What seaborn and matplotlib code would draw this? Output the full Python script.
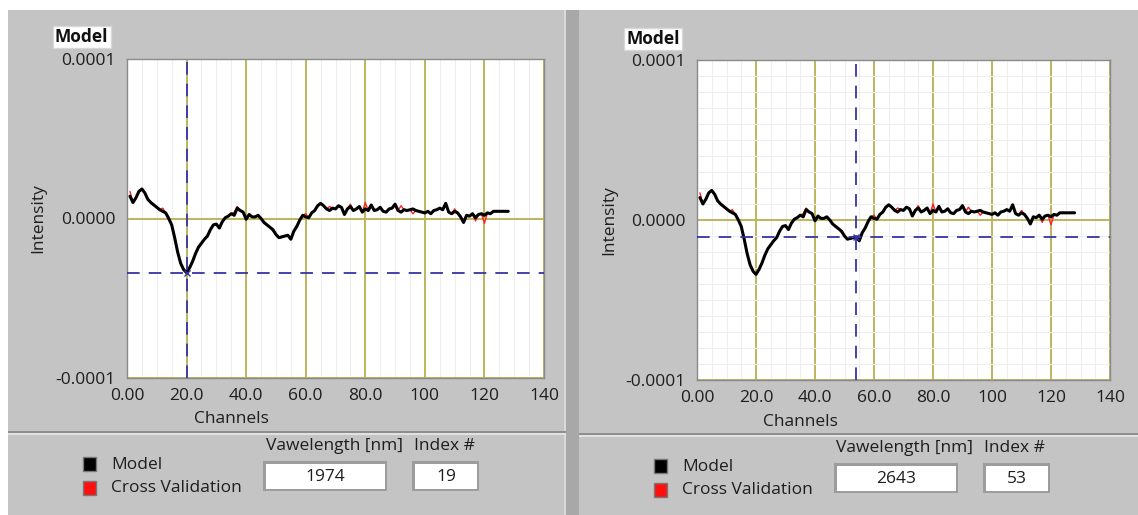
import numpy as np
import pandas as pd
import seaborn as sns
import matplotlib.pyplot as plt
from matplotlib.patches import Rectangle
from matplotlib.ticker import MultipleLocator

# spectrum, in units of 1e-6
channels = list(range(1, 129))
model = [14, 10, 13, 17, 18.5, 16, 12, 10, 8.5, 7,
         5.5, 4.5, 3.5, 0, -4, -12, -21, -28, -32, -34,
         -31, -27, -22, -18, -15.5, -13, -11, -7, -4, -3.5,
         -6, -2, 0.5, 1.5, 3, 2, 6.5, 5, 4, -0.5,
         2.5, 1, 1, 2, 0, -2.5, -4, -5.5, -7, -10,
         -12, -11.5, -11, -10.5, -13, -8, -5, -1, 2, 1,
         0.5, 3.5, 5, 8, 9.5, 8, 6, 5, 6.5, 6,
         8, 7, 2.5, 6, 7.5, 5, 6, 7.5, 4, 6,
         5, 8.5, 5, 5.5, 7, 4.5, 4, 6, 6.5, 9,
         5, 4, 5.5, 5, 5.5, 6, 5, 4.5, 4, 3.5,
         4.5, 3, 5, 5.5, 6.5, 5.5, 9.5, 4, 3, 4.5,
         3.5, 1, -2.5, 2, 1.5, 3, 0.5, 2.5, 3, 2,
         3.5, 3, 4.5, 4.5, 4.5, 4.5, 4.5, 4.5]
cross_val = [17, 10, 13, 17, 18.5, 16, 12, 10, 8.5, 7,
             5.5, 6.5, 3.5, 1, -4, -12, -21, -28, -32, -34,
             -31, -27, -22, -18, -15.5, -13, -11, -7, -4, -3.5,
             -6, -2, 0.5, 1.5, 3, 4, 7.5, 5, 4, -0.5,
             2.5, 1, 1, 2, 0, -2.5, -4, -5.5, -8, -10,
             -12, -12, -11, -10.5, -13, -8, -5, -1, 2, 3,
             0.5, 3.5, 5, 8, 9.5, 8, 6, 7.5, 6.5, 6,
             8, 7, 2.5, 6, 9, 5, 6, 7.5, 4, 10,
             5, 8.5, 5, 5.5, 7, 4.5, 4, 6, 6.5, 9,
             5, 8, 5.5, 5, 5.5, 3, 5, 4.5, 4, 3.5,
             4.5, 3, 5, 5.5, 6.5, 5.5, 9.5, 4, 3, 6,
             3.5, 1, -2.5, 2, 1.5, 3, -1.5, 2.5, 3, -3,
             3.5, 3, 4.5, 4.5, 4.5, 4.5, 4.5, 4.5]

x_ticks = [0, 20, 40, 60, 80, 100, 120, 140]
x_tick_labels = ['0.00', '20.0', '40.0', '60.0', '80.0', '100', '120', '140']
y_ticks = [-1e-4, 0, 1e-4]
y_tick_labels = ['-0.0001', '0.0000', '0.0001']
wavelengths = ['1974', '2643']
indices = [19, 53]

df = pd.DataFrame({'Channels': channels,
                   'Model': np.array(model) * 1e-6,
                   'Cross Validation': np.array(cross_val) * 1e-6})

sns.set_style('white')
plt.rcParams['font.family'] = ['Open Sans', 'DejaVu Sans']

W, H = 1138, 515
bg = '#c4c4c4'
grid_yellow = '#bdb55c'
cursor_blue = '#3434a4'
txt = '#1e1e1e'
fs = 12.5

fig = plt.figure(figsize=(W / 100, H / 100), dpi=100)
fig.patch.set_facecolor(bg)


def fx(x):
    return x / W


def fy(y):
    return 1 - y / H


def rect(x0, y0, x1, y1, **kw):
    fig.add_artist(Rectangle((fx(x0), fy(y1)), fx(x1 - x0), (y1 - y0) / H,
                             transform=fig.transFigure, **kw))


# panel frame: white border, divider, bottom separators
rect(0, 0, W, 10, facecolor='white', edgecolor='none')
rect(0, 0, 8, H, facecolor='white', edgecolor='none')
rect(566, 10, 579, H, facecolor='#a8a8a8', edgecolor='none')
rect(564, 10, 566, H, facecolor='#dadada', edgecolor='none')
rect(8, 431, 566, 433, facecolor='#8e8e8e', edgecolor='none')
rect(8, 433, 566, 435, facecolor='#e2e2e2', edgecolor='none')
rect(579, 433, W, 435, facecolor='#8e8e8e', edgecolor='none')
rect(579, 435, W, 437, facecolor='#e2e2e2', edgecolor='none')

# pixel layout of each panel: plot box, axis label spots, offset of the extras
panels = [
    dict(x0=127, x1=544, y0=59, y1=378, xlab=(231, 411), ylab_x=46, dx=0, dy=0, minor_y=False),
    dict(x0=697, x1=1110, y0=60, y1=380, xlab=(800, 414), ylab_x=617, dx=571, dy=2, minor_y=True),
]

for p, wl, idx in zip(panels, wavelengths, indices):
    w = p['x1'] - p['x0']
    h = p['y1'] - p['y0']
    ax = fig.add_axes([fx(p['x0']), fy(p['y1']), fx(w), h / H])
    ax.set_facecolor('white')

    sns.lineplot(data=df, x='Channels', y='Cross Validation', ax=ax,
                 color='#ff2020', linewidth=1.0, zorder=3)
    sns.lineplot(data=df, x='Channels', y='Model', ax=ax,
                 color='black', linewidth=2.2, zorder=4)

    ax.set_xlim(0, 140)
    ax.set_ylim(-1e-4, 1e-4)
    ax.set_xticks(x_ticks)
    ax.set_xticklabels(x_tick_labels)
    ax.set_yticks(y_ticks)
    ax.set_yticklabels(y_tick_labels)

    ax.xaxis.set_minor_locator(MultipleLocator(5))
    ax.grid(True, which='major', color=grid_yellow, linewidth=1.4, zorder=1)
    ax.grid(True, which='minor', axis='x', color='#eeeeee', linewidth=0.8, zorder=0)
    if p['minor_y']:
        ax.yaxis.set_minor_locator(MultipleLocator(1e-5))
        ax.grid(True, which='minor', axis='y', color='#eeeeee', linewidth=0.8, zorder=0)
    ax.set_axisbelow(True)
    ax.tick_params(which='minor', length=0)
    ax.tick_params(axis='both', which='major', labelsize=fs, colors=txt,
                   direction='out', length=6, width=1.2)
    ax.tick_params(axis='x', pad=1)
    ax.tick_params(axis='y', pad=2)

    for s in ax.spines.values():
        s.set_color('#8a8a8a')
        s.set_linewidth(1.0)

    # cursor on the selected channel
    cx = df['Channels'].iloc[idx]
    cy = df['Model'].iloc[idx]
    ax.axvline(cx, color=cursor_blue, linestyle=(0, (7, 5)), linewidth=1.3, zorder=5)
    ax.axhline(cy, color=cursor_blue, linestyle=(0, (7, 5)), linewidth=1.3, zorder=5)
    ax.plot([cx], [cy], marker='x', color=cursor_blue, markersize=5, zorder=6)

    ax.set_xlabel('Channels', fontsize=fs, color=txt)
    ax.xaxis.set_label_coords((p['xlab'][0] - p['x0']) / w, -(p['xlab'][1] - p['y1']) / h)
    ax.set_ylabel('Intensity', fontsize=fs, color=txt)
    ax.yaxis.set_label_coords(-(p['x0'] - p['ylab_x']) / w, 0.5)

    dx, dy = p['dx'], p['dy']
    fig.text(fx(55 + dx), fy(37 + dy), 'Model', fontsize=fs, fontweight='bold',
             va='center', ha='left', color='#111111',
             bbox=dict(boxstyle='square,pad=0.12', facecolor='white', edgecolor='#d8d8d8'))

    # legend swatches
    rect(83 + dx, 457 + dy, 96 + dx, 471 + dy, facecolor='black', edgecolor='#777777', linewidth=1)
    rect(83 + dx, 481 + dy, 96 + dx, 495 + dy, facecolor='#ff1010', edgecolor='#777777', linewidth=1)
    fig.text(fx(111 + dx), fy(465 + dy), 'Model', fontsize=fs, va='center', color=txt)
    fig.text(fx(111 + dx), fy(488 + dy), 'Cross Validation', fontsize=fs, va='center', color=txt)

    # readout boxes
    fig.text(fx(334 + dx), fy(446 + dy), 'Vawelength [nm]', fontsize=fs, ha='center', va='center', color=txt)
    fig.text(fx(444 + dx), fy(446 + dy), 'Index #', fontsize=fs, ha='center', va='center', color=txt)
    rect(263 + dx, 461 + dy, 387 + dx, 491 + dy, facecolor='#9c9c9c', edgecolor='none')
    rect(266 + dx, 464 + dy, 385 + dx, 489 + dy, facecolor='white', edgecolor='none')
    rect(412 + dx, 461 + dy, 479 + dx, 491 + dy, facecolor='#9c9c9c', edgecolor='none')
    rect(415 + dx, 464 + dy, 477 + dx, 489 + dy, facecolor='white', edgecolor='none')
    fig.text(fx(325 + dx), fy(477 + dy), wl, fontsize=fs, ha='center', va='center', color=txt)
    fig.text(fx(446 + dx), fy(477 + dy), str(idx), fontsize=fs, ha='center', va='center', color=txt)

fig.savefig('out.png', dpi=100, facecolor=fig.get_facecolor())
